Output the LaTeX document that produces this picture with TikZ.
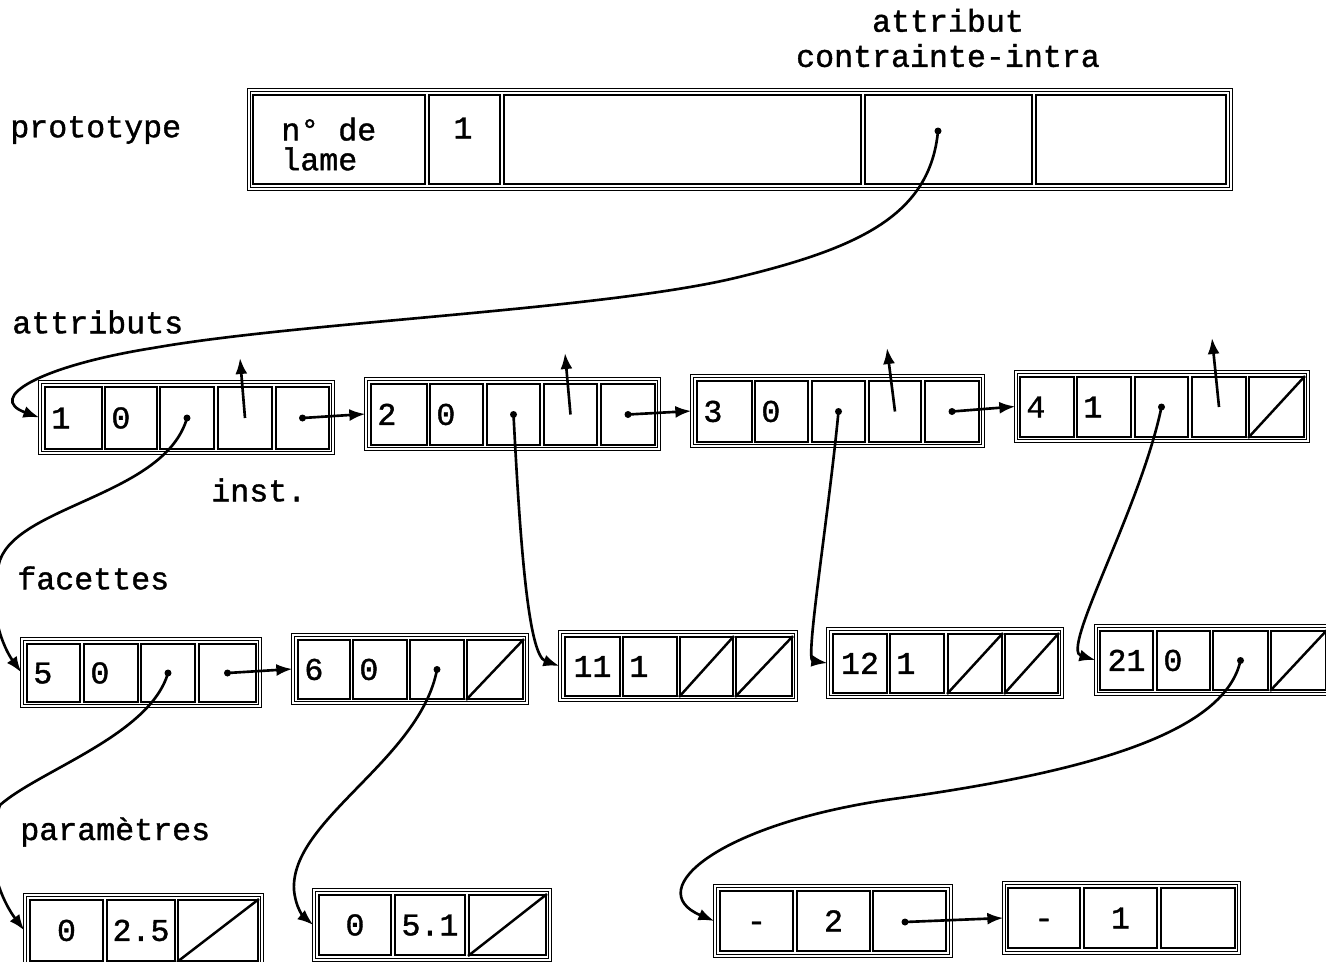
\documentclass[tikz,border=0pt]{standalone}
\usepackage{fontspec}
\newfontfamily\tfont[FakeBold=1.2]{Liberation Mono}
\usetikzlibrary{arrows.meta,calc}
\tikzset{
  cel/.style={draw, line width=1.1pt, inner sep=0pt},
  frm/.style={draw, double, double distance=1.1pt, line width=0.75pt, inner sep=0pt},
  txt/.style={inner sep=0pt, font=\tfont\fontsize{18}{17}\selectfont},
  ctxt/.style={txt, text height=11.8pt, text depth=0pt},
  lbl/.style={txt, anchor=west},
  ptr/.style={line width=1.5pt, -{Latex[length=0.32cm,width=0.24cm]}},
  slash/.style={line width=1.4pt},
}
\newcommand\frm[5]{\node[frm, minimum width={(#4-#2)*0.02cm}, minimum height={(#5-#3)*0.02cm}] (#1) at ({(#2+#4)/2},{(#3+#5)/2}) {};}
\newcommand\cel[5]{\node[cel, minimum width={(#4-#2)*0.02cm}, minimum height={(#5-#3)*0.02cm}] (#1) at ({(#2+#4)/2},{(#3+#5)/2}) {};}
\newcommand\celL[6]{\cel{#1}{#2}{#3}{#4}{#5}\node[ctxt, anchor=west] (#1t) at ($(#1.west)+(7,0)$) {#6};}
\newcommand\celC[6]{\cel{#1}{#2}{#3}{#4}{#5}\node[ctxt] (#1t) at (#1.center) {#6};}
\newcommand\slsh[1]{\draw[slash] (#1.south west) -- (#1.north east);}
\newcommand\pdot[1]{\fill (#1.center) circle[radius=0.07cm];}
\begin{document}
\begin{tikzpicture}[x=0.02cm, y=-0.02cm]
\useasboundingbox (0,0) rectangle (1326,961);

% labels
\node[lbl] (lproto) at (10,130) {prototype};
\node[lbl] (lattr) at (12,322) {attributs};
\node[lbl] (lfac) at (17,578) {facettes};
\node[lbl] (lpar) at (20,832) {paramètres};
\node[lbl] (linst) at (211,490) {inst.};
\node[txt, align=center, font=\tfont\fontsize{18}{20}\selectfont] (lcont) at (948,38) {attribut\\contrainte-intra};

% prototype
\frm{P}{249}{90}{1231}{189}
\cel{Pc1}{253}{95}{425}{184}
\node[txt, align=left, anchor=west, font=\tfont\fontsize{18}{17}\selectfont] (Pc1t) at (281,144) {n° de\\lame};
\cel{Pc2}{429}{95}{500}{184}
\node[ctxt] (Pc2t) at (463,128) {1};
\cel{Pc3}{504}{95}{861}{184}
\cel{Pc4}{865}{95}{1032}{184}
\cel{Pc5}{1036}{95}{1226}{184}
\fill (938,131) coordinate (Pd) circle[radius=0.07cm];

% attributs
\frm{A1}{40}{382}{333}{453}
\celL{A1c1}{45}{387}{102}{449}{1}
\celL{A1c2}{105}{387}{157}{449}{0}
\cel{A1c3}{160}{387}{214}{449}
\cel{A1c4}{218}{387}{272}{449}
\cel{A1c5}{276}{387}{329}{449}

\frm{A2}{366}{379}{659}{449}
\celL{A2c1}{371}{384}{427}{445}{2}
\celL{A2c2}{430}{384}{483}{445}{0}
\cel{A2c3}{487}{384}{540}{445}
\cel{A2c4}{544}{384}{597}{445}
\cel{A2c5}{601}{384}{655}{445}

\frm{A3}{692}{376}{983}{446}
\celL{A3c1}{697}{381}{752}{442}{3}
\celL{A3c2}{755}{381}{808}{442}{0}
\cel{A3c3}{812}{381}{865}{442}
\cel{A3c4}{869}{381}{921}{442}
\cel{A3c5}{925}{381}{979}{442}

\frm{A4}{1016}{372}{1308}{441}
\celL{A4c1}{1020}{377}{1074}{437}{4}
\celL{A4c2}{1077}{377}{1131}{437}{1}
\cel{A4c3}{1135}{377}{1188}{437}
\cel{A4c4}{1192}{377}{1246}{437}
\cel{A4c5}{1249}{377}{1304}{437}
\slsh{A4c5}

% facettes
\frm{F5}{22}{639}{260}{706}
\celL{F5c1}{27}{644}{80}{702}{5}
\celL{F5c2}{84}{644}{138}{702}{0}
\cel{F5c3}{141}{644}{195}{702}
\cel{F5c4}{199}{644}{256}{702}

\frm{F6}{293}{635}{527}{703}
\celL{F6c1}{298}{640}{350}{699}{6}
\celL{F6c2}{353}{640}{407}{699}{0}
\cel{F6c3}{410}{640}{464}{699}
\cel{F6c4}{467}{640}{523}{699}
\slsh{F6c4}

\frm{F11}{560}{632}{796}{700}
\celC{F11c1}{565}{637}{620}{696}{11}
\celL{F11c2}{623}{637}{677}{696}{1}
\cel{F11c3}{680}{637}{733}{696}
\cel{F11c4}{736}{637}{792}{696}
\slsh{F11c3}\slsh{F11c4}

\frm{F12}{828}{629}{1062}{697}
\celC{F12c1}{833}{634}{887}{693}{12}
\celL{F12c2}{890}{634}{944}{693}{1}
\cel{F12c3}{948}{634}{1002}{693}
\cel{F12c4}{1005}{634}{1058}{693}
\slsh{F12c3}\slsh{F12c4}

\frm{F21}{1096}{626}{1332}{694}
\celC{F21c1}{1100}{631}{1153}{690}{21}
\celL{F21c2}{1157}{631}{1210}{690}{0}
\cel{F21c3}{1213}{631}{1268}{690}
\cel{F21c4}{1271}{631}{1326}{690}
\slsh{F21c4}

% parametres
\frm{Q1}{25}{895}{262}{966}
\celC{Q1c1}{30}{900}{103}{961}{0}
\celC{Q1c2}{107}{900}{175}{961}{2.5}
\cel{Q1c3}{178}{900}{258}{961}
\slsh{Q1c3}

\frm{Q2}{314}{890}{550}{960}
\celC{Q2c1}{319}{895}{391}{955}{0}
\celC{Q2c2}{395}{895}{465}{955}{5.1}
\cel{Q2c3}{469}{895}{546}{955}
\slsh{Q2c3}

\frm{Q3}{715}{886}{951}{956}
\celC{Q3c1}{720}{891}{793}{951}{-}
\celC{Q3c2}{797}{891}{870}{951}{2}
\cel{Q3c3}{873}{891}{946}{951}

\frm{Q4}{1004}{883}{1239}{953}
\celC{Q4c1}{1008}{888}{1080}{948}{-}
\celC{Q4c2}{1084}{888}{1157}{948}{1}
\cel{Q4c3}{1161}{888}{1235}{948}

% pointer dots
\pdot{A1c3}\pdot{A1c5}\pdot{A2c3}\pdot{A2c5}\pdot{A3c3}\pdot{A3c5}\pdot{A4c3}
\pdot{F5c3}\pdot{F5c4}\pdot{F6c3}\pdot{F21c3}
\fill (905,922) coordinate (Q3d) circle[radius=0.07cm];

% up arrows
\coordinate (U1) at (240,358);
\coordinate (U2) at (565,353);
\coordinate (U3) at (887,348);
\coordinate (U4) at (1212,338);
\draw[ptr] (A1c4.center) -- (U1);
\draw[ptr] (A2c4.center) -- (U2);
\draw[ptr] (A3c4.center) -- (U3);
\draw[ptr] (A4c4.center) -- (U4);

% next arrows
\draw[ptr] (A1c5.center) -- (A2.west);
\draw[ptr] (A2c5.center) -- (A3.west);
\draw[ptr] (A3c5.center) -- (A4.west);
\draw[ptr] (F5c4.center) -- (F6.west);
\draw[ptr] (Q3d) -- (Q4.west);

% long curves
\draw[ptr] (Pd) .. controls (930,215) and (860,248) .. (735,278)
  .. controls (600,310) and (300,322) .. (153,348)
  .. controls (40,366) and (-15,398) .. (A1.west);
\draw[ptr] (A1c3.center) .. controls (165,495) and (20,505) .. (0,560)
  .. controls (-15,610) and (5,650) .. (F5.west);
\draw[ptr] (A2c3.center) .. controls (520,540) and (528,655) .. (F11.west);
\draw[ptr] (A3c3.center) .. controls (828,520) and (805,660) .. (F12.west);
\draw[ptr] (A4c3.center) .. controls (1140,510) and (1060,650) .. (F21.west);
\draw[ptr] (F5c3.center) .. controls (150,735) and (40,770) .. (0,805)
  .. controls (-20,860) and (5,905) .. (Q1.west);
\draw[ptr] (F6c3.center) .. controls (420,760) and (290,820) .. (294,890)
  .. controls (296,910) and (305,918) .. (Q2.west);
\draw[ptr] (F21c3.center) .. controls (1225,730) and (1100,770) .. (900,798)
  .. controls (720,822) and (640,890) .. (Q3.west);
\end{tikzpicture}
\end{document}
